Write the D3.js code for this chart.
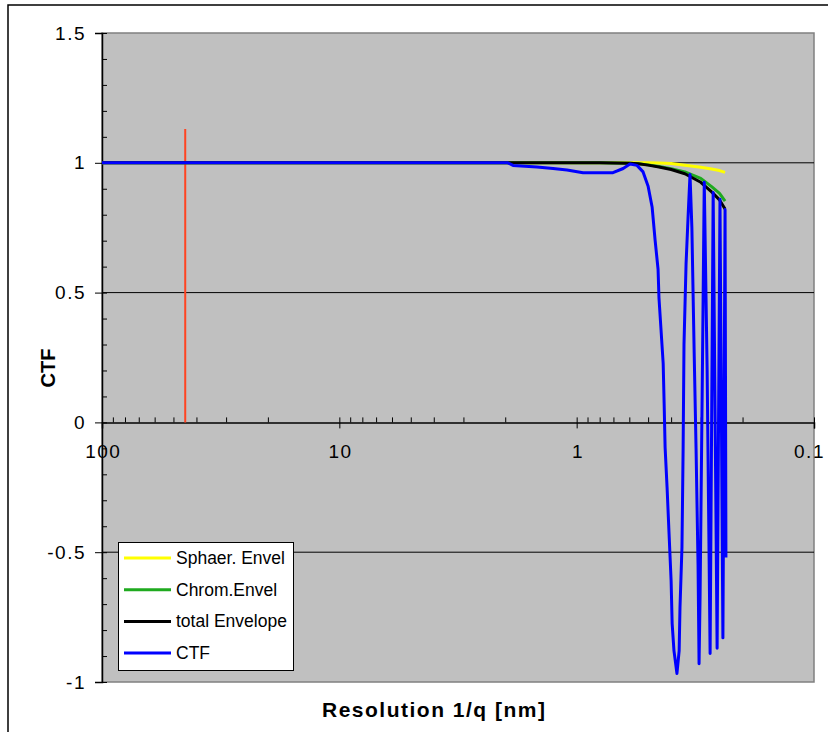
<!DOCTYPE html>
<html>
<head>
<meta charset="utf-8">
<title>CTF</title>
<script src="https://d3js.org/d3.v7.min.js"></script>
<style>
  body { margin: 0; background: #fff; }
  text { font-family: "Liberation Sans", Arial, sans-serif; }
</style>
</head>
<body>
<div id="chart"></div>
<script>
// resolution in nm
var envRes   = [100, 10, 2, 1, 0.8, 0.7, 0.6, 0.55, 0.5, 0.45, 0.4, 0.35, 0.3, 0.27, 0.25, 0.237];
var sphaer   = [1, 1, 1, 1, 1, 1, 1, 1, 1, 0.999, 0.997, 0.991, 0.983, 0.976, 0.97, 0.963];
var chrom    = [1, 1, 1, 1, 1, 0.999, 0.998, 0.996, 0.992, 0.986, 0.977, 0.965, 0.94, 0.908, 0.882, 0.852];
var total    = [1, 1, 1, 1, 1, 0.999, 0.998, 0.996, 0.991, 0.984, 0.974, 0.958, 0.925, 0.888, 0.857, 0.822];

var ctfRes = [100, 10, 1.95, 1.854, 1.469, 1.257, 1.098, 0.940, 0.703, 0.637, 0.596, 0.557, 0.525,
  0.500, 0.481, 0.467, 0.454, 0.450, 0.441, 0.432, 0.428, 0.424, 0.416, 0.408, 0.400, 0.396,
  0.389, 0.378, 0.370, 0.367, 0.360, 0.356, 0.353, 0.346, 0.339, 0.333, 0.327, 0.320, 0.314,
  0.308, 0.305, 0.302, 0.296, 0.290, 0.282, 0.274, 0.266, 0.256, 0.249, 0.242, 0.237, 0.235];
var ctfVal = [1, 1, 1, 0.99, 0.984, 0.978, 0.972, 0.962, 0.962, 0.978, 0.995, 0.99, 0.965,
  0.91, 0.83, 0.70, 0.59, 0.48, 0.355, 0.227, 0.073, -0.096, -0.25, -0.43, -0.61, -0.775,
  -0.88, -0.967, -0.88, -0.713, -0.48, -0.1, 0.30, 0.61, 0.80, 0.955, 0.75, 0.28, -0.10,
  -0.55, -0.93, -0.67, 0.10, 0.925, 0.2, -0.89, 0.886, -0.87, 0.86, -0.83, 0.82, -0.52];

var markerRes = [44.6, 44.6];
var markerVal = [0, 1.13];

var xTickLabels = [100, 10, 1, 0.1];
var yMajor = [-1, -0.5, 0, 0.5, 1, 1.5];

var legendNames  = ["Sphaer. Envel", "Chrom.Envel", "total Envelope", "CTF"];
var legendColors = ["#ffff00", "#1faa1f", "#000000", "#0000ff"];

var W = 828, H = 732;
var svg = d3.select("#chart").append("svg").attr("width", W).attr("height", H);

// outer frame
svg.append("rect").attr("x", 8).attr("y", 5).attr("width", 840).attr("height", 800)
  .attr("fill", "none").attr("stroke", "#000").attr("stroke-width", 1.5);

var x = d3.scaleLog().domain([100, 0.1]).range([102, 814]);
var y = d3.scaleLinear().domain([-1, 1.5]).range([682, 33]);

// plot area
svg.append("rect").attr("x", 102).attr("y", 33).attr("width", 712).attr("height", 649)
  .attr("fill", "#c0c0c0").attr("stroke", "#808080").attr("stroke-width", 1.5);

// gridlines
svg.append("g").selectAll("line").data([-0.5, 0.5, 1]).enter().append("line")
  .attr("x1", 102).attr("x2", 814)
  .attr("y1", function(d) { return y(d); }).attr("y2", function(d) { return y(d); })
  .attr("stroke", "#000").attr("stroke-width", 1);

// y axis
var yMinor = d3.range(-10, 16).map(function(i) { return i / 10; });
svg.append("g").attr("transform", "translate(102,0)")
  .call(d3.axisRight(y).tickValues(yMinor).tickSize(5).tickFormat(""))
  .call(function(g) { g.select(".domain").remove(); });
svg.append("g").attr("class", "yaxis").attr("transform", "translate(102,0)")
  .call(d3.axisLeft(y).tickValues(yMajor).tickSize(7).tickPadding(9)
    .tickFormat(function(d) { return String(d); }));

// x axis on zero line
var xMinor = x.ticks();
svg.append("g").attr("transform", "translate(0," + y(0) + ")")
  .call(d3.axisTop(x).tickValues(xMinor).tickSize(5).tickFormat(""))
  .call(function(g) { g.select(".domain").remove(); });
svg.append("g").attr("class", "xaxis").attr("transform", "translate(0," + y(0) + ")")
  .call(d3.axisBottom(x).tickValues(xTickLabels).tickSize(6).tickPadding(16)
    .tickFormat(function(d) { return String(d); }));

svg.selectAll(".xaxis .domain, .yaxis .domain").attr("stroke", "#000").attr("stroke-width", 1.5);
svg.selectAll(".tick line").attr("stroke", "#000").attr("stroke-width", 1);
svg.selectAll(".xaxis text, .yaxis text").attr("font-size", 19).attr("fill", "#000")
  .attr("font-family", "Liberation Sans, Arial, sans-serif");
svg.selectAll(".yaxis text").attr("letter-spacing", 1.5);
// last label sits against the frame edge, nudge it in
svg.selectAll(".xaxis text").attr("letter-spacing", 1.5)
  .attr("dx", function(d) { return d === 0.1 ? -5 : 0.75; });

// curves
var line = d3.line().x(function(d) { return x(d[0]); }).y(function(d) { return y(d[1]); });
function pairs(xs, ys) { return xs.map(function(v, i) { return [v, ys[i]]; }); }

svg.append("path").datum(pairs(markerRes, markerVal)).attr("d", line)
  .attr("fill", "none").attr("stroke", "#ff4422").attr("stroke-width", 2);

var series = [sphaer, chrom, total];
series.forEach(function(s, i) {
  svg.append("path").datum(pairs(envRes, s)).attr("d", line)
    .attr("fill", "none").attr("stroke", legendColors[i]).attr("stroke-width", 3)
    .attr("stroke-linejoin", "round");
});
svg.append("path").datum(pairs(ctfRes, ctfVal)).attr("d", line)
  .attr("fill", "none").attr("stroke", "#0000ff").attr("stroke-width", 3)
  .attr("stroke-linejoin", "round");

// legend
var lg = svg.append("g");
lg.append("rect").attr("x", 118.5).attr("y", 542.5).attr("width", 175).attr("height", 128)
  .attr("fill", "#fff").attr("stroke", "#000").attr("stroke-width", 1);
legendNames.forEach(function(n, i) {
  var cy = 558 + i * 31.7;
  lg.append("line").attr("x1", 124).attr("x2", 171).attr("y1", cy).attr("y2", cy)
    .attr("stroke", legendColors[i]).attr("stroke-width", 3);
  lg.append("text").attr("x", 176).attr("y", cy + 6).attr("font-size", 17.5).text(n);
});

// axis titles
svg.append("text").attr("transform", "translate(55,368) rotate(-90)")
  .attr("text-anchor", "middle").attr("font-size", 20).attr("font-weight", "bold").text("CTF");
svg.append("text").attr("x", 322).attr("y", 717)
  .attr("font-size", 21).attr("font-weight", "bold")
  .attr("textLength", 223).attr("lengthAdjust", "spacing")
  .text("Resolution 1/q [nm]");
</script>
</body>
</html>
